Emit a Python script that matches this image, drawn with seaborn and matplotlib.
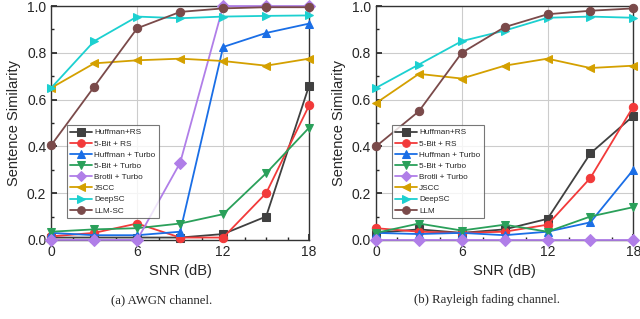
import numpy as np
import pandas as pd
import matplotlib
matplotlib.use("Agg")
import matplotlib.pyplot as plt
import seaborn as sns
from matplotlib.ticker import MultipleLocator, FormatStrFormatter

snr = [0, 3, 6, 9, 12, 15, 18]

awgn_huffman_rs = [0.01, 0.01, 0.01, 0.01, 0.025, 0.10, 0.66]
awgn_5bit_rs = [0.015, 0.03, 0.07, 0.01, 0.01, 0.20, 0.575]
awgn_huffman_turbo = [0.03, 0.02, 0.02, 0.035, 0.825, 0.885, 0.925]
awgn_5bit_turbo = [0.035, 0.045, 0.05, 0.07, 0.11, 0.285, 0.48]
awgn_brotli_turbo = [0.0, 0.0, 0.0, 0.33, 1.0, 1.0, 1.0]
awgn_jscc = [0.65, 0.755, 0.768, 0.775, 0.765, 0.745, 0.775]
awgn_deepsc = [0.65, 0.85, 0.955, 0.948, 0.955, 0.958, 0.96]
awgn_llm = [0.405, 0.655, 0.905, 0.975, 0.99, 0.995, 0.995]

ray_huffman_rs = [0.03, 0.045, 0.03, 0.045, 0.09, 0.37, 0.53]
ray_5bit_rs = [0.05, 0.035, 0.03, 0.035, 0.065, 0.265, 0.57]
ray_huffman_turbo = [0.03, 0.025, 0.03, 0.02, 0.035, 0.075, 0.30]
ray_5bit_turbo = [0.03, 0.07, 0.04, 0.065, 0.035, 0.10, 0.14]
ray_brotli_turbo = [0.0, 0.0, 0.0, 0.0, 0.0, 0.0, 0.0]
ray_jscc = [0.585, 0.71, 0.69, 0.745, 0.775, 0.735, 0.745]
ray_deepsc = [0.65, 0.75, 0.85, 0.895, 0.95, 0.955, 0.95]
ray_llm = [0.40, 0.55, 0.80, 0.91, 0.965, 0.98, 0.99]

names_a = ["Huffman+RS", "5-Bit + RS", "Huffman + Turbo", "5-Bit + Turbo",
           "Brotli + Turbo", "JSCC", "DeepSC", "LLM-SC"]
names_b = ["Huffman+RS", "5-Bit + RS", "Huffman + Turbo", "5-Bit + Turbo",
           "Brotli + Turbo", "JSCC", "DeepSC", "LLM"]
captions = ["(a) AWGN channel.", "(b) Rayleigh fading channel."]

colors = ["#404040", "#f23a3a", "#1a6ee6", "#2aa05a", "#b07ee8", "#d4a000", "#1cd0d0", "#7a4a4a"]
markers = ["s", "o", "^", "v", "D", "<", ">", "o"]

series_a = [awgn_huffman_rs, awgn_5bit_rs, awgn_huffman_turbo, awgn_5bit_turbo,
            awgn_brotli_turbo, awgn_jscc, awgn_deepsc, awgn_llm]
series_b = [ray_huffman_rs, ray_5bit_rs, ray_huffman_turbo, ray_5bit_turbo,
            ray_brotli_turbo, ray_jscc, ray_deepsc, ray_llm]

sns.set_theme(style="white")
plt.rcParams['font.family'] = ['Liberation Sans', 'DejaVu Sans']

fig = plt.figure(figsize=(6.4, 3.19), dpi=100)
ax_a = fig.add_axes([0.080, 0.248, 0.403, 0.733])
ax_b = fig.add_axes([0.5875, 0.248, 0.402, 0.733])

for ax, names, series, cap, cx in [(ax_a, names_a, series_a, captions[0], 0.253),
                                    (ax_b, names_b, series_b, captions[1], 0.761)]:
    rows = []
    for n, s in zip(names, series):
        for x, y in zip(snr, s):
            rows.append({"SNR": x, "val": y, "method": n})
    df = pd.DataFrame(rows)
    sns.lineplot(data=df, x="SNR", y="val", hue="method", style="method",
                 hue_order=names, style_order=names,
                 palette=dict(zip(names, colors)),
                 markers=dict(zip(names, markers)), dashes=False,
                 markersize=6, linewidth=1.3,
                 ax=ax, legend=True, clip_on=False, zorder=3)
    for ln in ax.lines:
        ln.set_markeredgecolor(ln.get_color())
    ax.set_xlim(0, 18)
    ax.set_ylim(0, 1.0)
    ax.xaxis.set_major_locator(MultipleLocator(6))
    ax.xaxis.set_minor_locator(MultipleLocator(1.5))
    ax.yaxis.set_major_locator(MultipleLocator(0.2))
    ax.yaxis.set_minor_locator(MultipleLocator(0.1))
    ax.yaxis.set_major_formatter(FormatStrFormatter("%.1f"))
    ax.grid(True, which="major", color="#cccccc", linewidth=0.8)
    ax.set_axisbelow(True)
    ax.tick_params(axis="both", which="both", direction="in", labelsize=10,
                   bottom=True, left=True)
    ax.tick_params(which="major", length=4)
    ax.tick_params(which="minor", length=2)
    for sp in ax.spines.values():
        sp.set_color("#333333")
        sp.set_linewidth(1.0)
    ax.set_xlabel("SNR (dB)", fontsize=10.5)
    ax.set_ylabel("Sentence Similarity", fontsize=10.5)
    leg = ax.legend(loc="lower left", bbox_to_anchor=(0.062, 0.094), fontsize=5.9,
                    frameon=True, fancybox=False, edgecolor="#555555",
                    handlelength=2.6, handletextpad=0.3, labelspacing=0.42,
                    borderpad=0.4, borderaxespad=0.0)
    leg.get_frame().set_linewidth(0.8)
    for h in leg.legend_handles:
        try:
            h.set_markeredgecolor(h.get_color())
            h.set_markersize(5.5)
        except Exception:
            pass
    fig.text(cx, 0.06, cap, ha="center", va="center",
             fontsize=9.2, family=["Liberation Serif", "DejaVu Serif"])

fig.savefig("out.png", dpi=100, facecolor="white")
